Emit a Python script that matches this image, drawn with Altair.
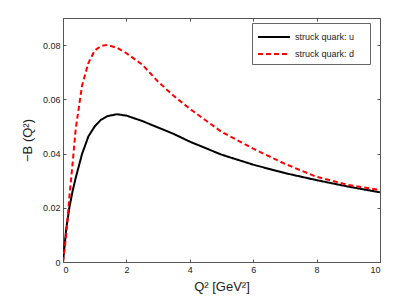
import altair as alt
import pandas as pd

q2 = [0, 0.1, 0.2, 0.3, 0.4, 0.6, 0.8, 1.0, 1.2, 1.4, 1.7, 2.0, 2.5, 3.0, 3.5, 4.0, 5.0, 6.0, 7.0, 8.0, 9.0, 10.0]
b_u = [0, 0.012, 0.020, 0.026, 0.031, 0.0398, 0.0463, 0.0500, 0.0525, 0.0538, 0.0545, 0.0540, 0.0520, 0.0496, 0.0472,
       0.0444, 0.0396, 0.0359, 0.0328, 0.0302, 0.0278, 0.0257]
b_d = [0, 0.0098, 0.024, 0.036, 0.049, 0.065, 0.0734, 0.0780, 0.0797, 0.0801, 0.0790, 0.0770, 0.0728, 0.0665, 0.0612,
       0.0565, 0.0480, 0.0418, 0.0362, 0.0314, 0.0284, 0.0266]
series = ["struck quark: u", "struck quark: d"]

rows = []
for name, vals in zip(series, [b_u, b_d]):
    for q, v in zip(q2, vals):
        rows.append({"q2": q, "b": v, "series": name})
df = pd.DataFrame(rows)

FONT = "Liberation Sans"
xs = alt.Scale(domain=[0, 10], nice=False)
ys = alt.Scale(domain=[0, 0.09], nice=False)
xticks = [0, 2, 4, 6, 8, 10]
yticks = [0, 0.02, 0.04, 0.06, 0.08]

legend = alt.Legend(title="\u00a0", titleOrient="right", titlePadding=11, titleFontSize=9,
                    orient="none", legendX=189, legendY=5,
                    symbolType="M-1,0H3", symbolSize=256, symbolStrokeWidth=2,
                    labelFontSize=9, labelFont=FONT, labelColor="#222", labelOffset=20,
                    padding=5, rowPadding=3,
                    strokeColor="#666", fillColor="white", labelLimit=300)

lines = alt.Chart(df).mark_line(strokeWidth=2, clip=True).encode(
    x=alt.X("q2:Q", scale=xs, axis=alt.Axis(values=xticks, ticks=False, title="Q² [GeV²]",
                                            labelFontSize=9, titleFontSize=13, labelPadding=3,
                                            titlePadding=6, format="d")),
    y=alt.Y("b:Q", scale=ys, axis=alt.Axis(values=yticks, ticks=False, title="−B (Q²)",
                                           labelFontSize=9, titleFontSize=13, labelPadding=3,
                                           titlePadding=8, labelExpr="datum.value == 0 ? '0' : format(datum.value, '.2f')")),
    color=alt.Color("series:N", scale=alt.Scale(domain=series, range=["#000000", "#ff0000"]), legend=legend),
    strokeDash=alt.StrokeDash("series:N", scale=alt.Scale(domain=series, range=[[1, 0], [5, 3]]), legend=legend),
)

tick_axis = dict(labels=False, title=None, domain=False, ticks=True, tickSize=3, offset=-3)

inner_bl = alt.Chart(df).mark_point(opacity=0).encode(
    x=alt.X("q2:Q", scale=xs, axis=alt.Axis(values=xticks, orient="bottom", **tick_axis)),
    y=alt.Y("b:Q", scale=ys, axis=alt.Axis(values=yticks, orient="left", **tick_axis)),
)
inner_tr = alt.Chart(df).mark_point(opacity=0).encode(
    x=alt.X("q2:Q", scale=xs, axis=alt.Axis(values=xticks, orient="top", **tick_axis)),
    y=alt.Y("b:Q", scale=ys, axis=alt.Axis(values=yticks, orient="right", **tick_axis)),
)

chart = alt.layer(lines, inner_bl, inner_tr).resolve_axis(x="independent", y="independent").properties(
    width=317, height=244,
    autosize=alt.AutoSizeParams(type="none"),
    padding={"left": 55, "top": 10, "right": 20, "bottom": 36},
).configure_view(stroke="#555", strokeWidth=1).configure_axis(
    grid=False, domainColor="#555", tickColor="#555", labelColor="#222", titleColor="#222",
    labelFont=FONT, titleFont=FONT, titleFontWeight="normal",
)

chart.save("out.html", embed_options={"renderer": "svg", "actions": False})
